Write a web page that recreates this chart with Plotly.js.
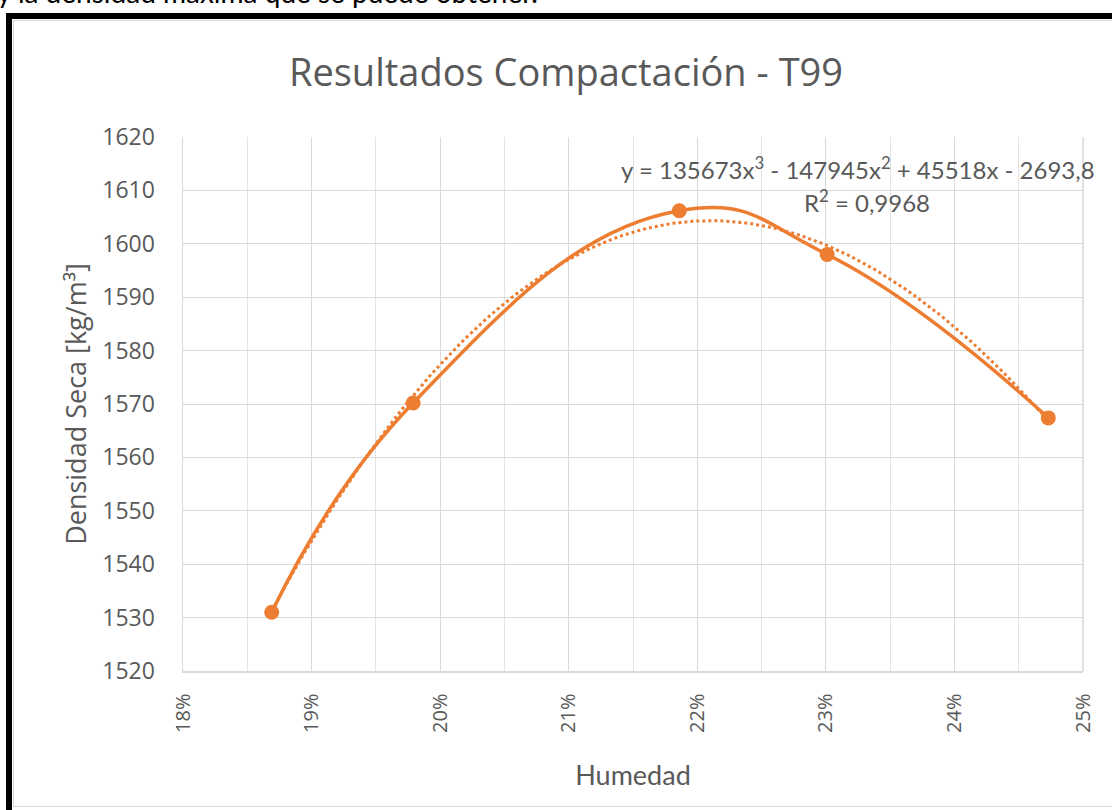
<!DOCTYPE html>
<html>
<head>
<meta charset="utf-8">
<script src="https://cdn.plot.ly/plotly-3.0.1.min.js"></script>
<style>
  html, body { margin: 0; padding: 0; width: 1112px; height: 810px; overflow: hidden; background: #fff; }
  #frame { position: absolute; left: 6px; top: 13px; width: 1200px; height: 1000px; border: 6px solid #000; box-sizing: border-box; }
  #inner { position: absolute; left: 13px; top: 20px; width: 1200px; height: 787px; border: 1px solid #d9d9d9; box-sizing: border-box; }
  #above { position: absolute; left: -3px; top: -23px; line-height: 30px; font-family: Lato, "Open Sans", sans-serif; font-size: 28px; color: #000; white-space: nowrap; }
  #chart { position: absolute; left: 0; top: 0; width: 1112px; height: 810px; }
</style>
</head>
<body>
<div id="above">y la densidad máxima que se puede obtener.</div>
<div id="frame"></div>
<div id="inner"></div>
<div id="chart"></div>
<script>
// Data
const humedad = [0.1869, 0.1979, 0.2186, 0.2301, 0.2473];
const densidad = [1531.0, 1570.2, 1606.2, 1598.0, 1567.4];
// Trendline coefficients as printed on the chart (c0 + c1 x + c2 x^2 + c3 x^3)
const trendCoef = [-2693.8, 45518, -147945, 135673];
const trendLabel = "y = 135673x<sup>3</sup> - 147945x<sup>2</sup> + 45518x - 2693,8";
const r2Label = "R<sup>2</sup> = 0,9968";
const xTicks = [0.18, 0.19, 0.20, 0.21, 0.22, 0.23, 0.24, 0.25];
const xTickText = ["18%", "19%", "20%", "21%", "22%", "23%", "24%", "25%"];

const orange = "#ED7D31";
const grey = "#595959";

// trendline evaluated along the data extent
const tx = [], ty = [];
const n = 120;
const x0 = humedad[0], x1 = humedad[humedad.length - 1];
for (let i = 0; i <= n; i++) {
  const x = x0 + (x1 - x0) * i / n;
  let y = 0;
  for (let k = trendCoef.length - 1; k >= 0; k--) y = y * x + trendCoef[k];
  tx.push(x); ty.push(y);
}

const traces = [
  {
    x: tx, y: ty, type: "scatter", mode: "lines",
    line: { color: orange, width: 3, dash: "dot" },
    hoverinfo: "skip", showlegend: false
  },
  {
    x: humedad, y: densidad, type: "scatter", mode: "lines+markers",
    line: { color: orange, width: 3.5, shape: "spline", smoothing: 1.3 },
    marker: { color: orange, size: 15 },
    showlegend: false
  }
];

const layout = {
  width: 1112, height: 810,
  paper_bgcolor: "rgba(0,0,0,0)",
  plot_bgcolor: "#fff",
  margin: { l: 183, r: 29, t: 137, b: 139 },
  title: {
    text: "Resultados Compactación - T99",
    font: { family: "Open Sans, sans-serif", size: 38, color: grey },
    x: 566 / 1112, xref: "container", xanchor: "center",
    y: 1 - 73 / 810, yref: "container", yanchor: "middle"
  },
  xaxis: {
    range: [0.18, 0.25],
    tickvals: xTicks, ticktext: xTickText,
    tickangle: -90,
    tickfont: { family: "Open Sans, sans-serif", size: 20, color: grey },
    ticklabelstandoff: 13,
    showgrid: true, gridcolor: "#d9d9d9", gridwidth: 1,
    minor: { dtick: 0.005, tick0: 0.18, showgrid: true, gridcolor: "#e3e3e3", gridwidth: 1 },
    showline: true, linecolor: "#d9d9d9", linewidth: 1.5,
    zeroline: false, ticks: "", ticklen: 0,
    title: { text: "Humedad", font: { family: "Lato, sans-serif", size: 27, color: grey }, standoff: 34 }
  },
  yaxis: {
    range: [1520, 1620], dtick: 10, tick0: 1520,
    tickfont: { family: "Open Sans, sans-serif", size: 23, color: grey },
    ticklabelstandoff: 22,
    showgrid: true, gridcolor: "#d9d9d9", gridwidth: 1,
    showline: true, linecolor: "#d9d9d9", linewidth: 1.5,
    zeroline: false, ticks: "", ticklen: 0,
    title: { text: "Densidad Seca [kg/m³]", font: { family: "Open Sans, sans-serif", size: 27, color: grey }, standoff: 8 }
  },
  shapes: [
    { type: "line", xref: "paper", yref: "paper", x0: 1, x1: 1, y0: 0, y1: 1, line: { color: "#d9d9d9", width: 1.5 } }
  ],
  annotations: [
    {
      text: trendLabel, xref: "paper", yref: "paper",
      x: (619 - 183) / 900, y: (671 - 168) / 534, xanchor: "left", yanchor: "middle",
      showarrow: false, font: { family: "Lato, sans-serif", size: 24, color: grey }
    },
    {
      text: r2Label, xref: "paper", yref: "paper",
      x: (867 - 183) / 900, y: (671 - 201) / 534, xanchor: "center", yanchor: "middle",
      showarrow: false, font: { family: "Lato, sans-serif", size: 24, color: grey }
    }
  ]
};

Plotly.newPlot("chart", traces, layout, { displayModeBar: false, staticPlot: true });
</script>
</body>
</html>
